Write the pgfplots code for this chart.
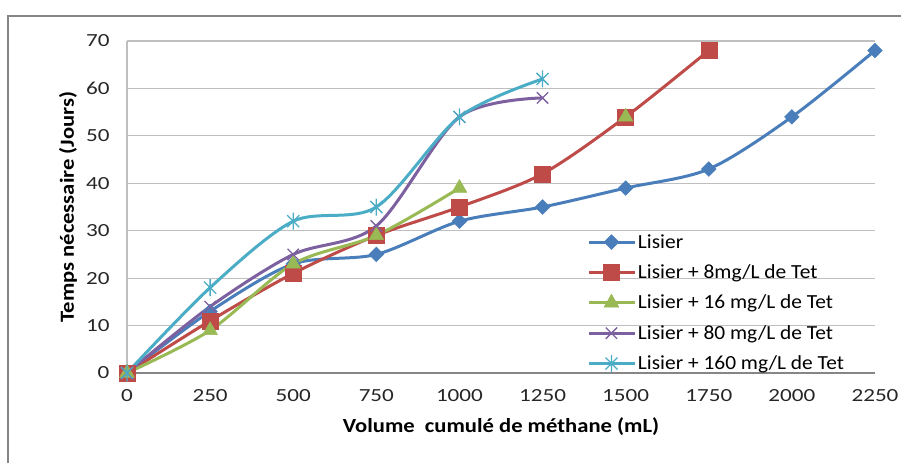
\documentclass[border=0pt]{standalone}
\usepackage{fontspec}
\setmainfont{Carlito}
\newfontfamily\tickfont[FakeStretch=1.25]{Carlito}
\newfontfamily\labfont[FakeStretch=1.13]{Carlito}
\newfontfamily\legfont[FakeStretch=1.07]{Carlito}
\usepackage{pgfplots}
\pgfplotsset{compat=1.18}

\definecolor{cBlue}{HTML}{4A7EBB}
\definecolor{cRed}{HTML}{BE4B48}
\definecolor{cGreen}{HTML}{98B954}
\definecolor{cPurple}{HTML}{7D60A0}
\definecolor{cCyan}{HTML}{4BACC6}
\definecolor{gridGray}{HTML}{BFBFBF}
\definecolor{frameGray}{HTML}{868686}

% Excel-style star: an x with a vertical bar
\pgfdeclareplotmark{xstar}{%
  \pgfpathmoveto{\pgfqpoint{-.7071\pgfplotmarksize}{-.7071\pgfplotmarksize}}%
  \pgfpathlineto{\pgfqpoint{.7071\pgfplotmarksize}{.7071\pgfplotmarksize}}%
  \pgfpathmoveto{\pgfqpoint{-.7071\pgfplotmarksize}{.7071\pgfplotmarksize}}%
  \pgfpathlineto{\pgfqpoint{.7071\pgfplotmarksize}{-.7071\pgfplotmarksize}}%
  \pgfpathmoveto{\pgfqpoint{0pt}{-\pgfplotmarksize}}%
  \pgfpathlineto{\pgfqpoint{0pt}{\pgfplotmarksize}}%
  \pgfusepathqstroke}

\begin{document}
\begin{tikzpicture}[x=1pt,y=1pt]
\useasboundingbox (0,0) rectangle (901,463);
\draw[frameGray, line width=1.5pt] (8,0) -- (8,447) -- (901,447);
\begin{axis}[
    at={(127pt,90pt)}, anchor=south west,
    scale only axis, width=748pt, height=332pt,
    xmin=0, xmax=2250, ymin=0, ymax=70,
    xtick={0,250,...,2250}, ytick={0,10,...,70},
    axis lines=left,
    axis line style={-, draw=frameGray, line width=1.2pt},
    y axis line style={draw=gridGray},
    major tick length=0pt,
    ymajorgrids, grid style={gridGray, line width=1.2pt},
    /pgf/number format/assume math mode=true,
    /pgf/number format/set thousands separator={},
    ticklabel style={font=\tickfont\fontsize{18.5}{20}\selectfont, text=black!85},
    xticklabel style={yshift=-13pt},
    yticklabel style={xshift=-14pt},
    xlabel={Volume\ \ cumulé de méthane (mL)},
    ylabel={Temps nécessaire (Jours)},
    label style={font=\labfont\fontsize{20}{22}\selectfont\bfseries},
    xlabel style={at={(axis description cs:0.5,-0.16)}, anchor=center},
    ylabel style={at={(axis description cs:-0.079,0.5)}, anchor=center},
    every axis plot/.append style={smooth, line width=3pt},
    legend style={at={(0.612,0.43)}, anchor=north west, draw=none, fill=none,
        font=\legfont\fontsize{20}{22}\selectfont, row sep=11pt,
        nodes={inner sep=2pt}},
    legend cell align=left,
    legend image code/.code={\draw[mark repeat=2,mark phase=2] plot coordinates {(0pt,0pt)(22pt,0pt)(45pt,0pt)};},
]
\addplot[cBlue, mark=square*, mark size=5.2pt, mark options={rotate=45, line width=0.5pt, fill=cBlue}]
  coordinates {(0,0)(250,13)(500,23)(750,25)(1000,32)(1250,35)(1500,39)(1750,43)(2000,54)(2250,68)};
\addlegendentry{Lisier}
\addplot[cRed, mark=square*, mark size=8pt, mark options={line width=0.5pt, fill=cRed}]
  coordinates {(0,0)(250,11)(500,21)(750,29)(1000,35)(1250,42)(1500,54)(1750,68)};
\addlegendentry{Lisier + 8mg/L de Tet}
\addplot[cGreen, mark=triangle*, mark size=8.5pt, mark options={line width=0.5pt, fill=cGreen}]
  coordinates {(0,0)(250,9)(500,23)(750,29)(1000,39)};
\addlegendentry{Lisier + 16 mg/L de Tet}
\addplot[cPurple, mark=x, mark size=8pt, mark options={line width=1.3pt}]
  coordinates {(0,0)(250,14)(500,25)(750,31)(1000,54)(1250,58)};
\addlegendentry{Lisier + 80 mg/L de Tet}
\addplot[cCyan, mark=xstar, mark size=8.5pt, mark options={line width=1.3pt}]
  coordinates {(0,0)(250,18)(500,32)(750,35)(1000,54)(1250,62)};
\addlegendentry{Lisier + 160 mg/L de Tet}
\addplot[cGreen, only marks, forget plot, mark=triangle*, mark size=8.5pt, mark options={line width=0.5pt, fill=cGreen}]
  coordinates {(1500,54)};
\end{axis}
\end{tikzpicture}
\end{document}
